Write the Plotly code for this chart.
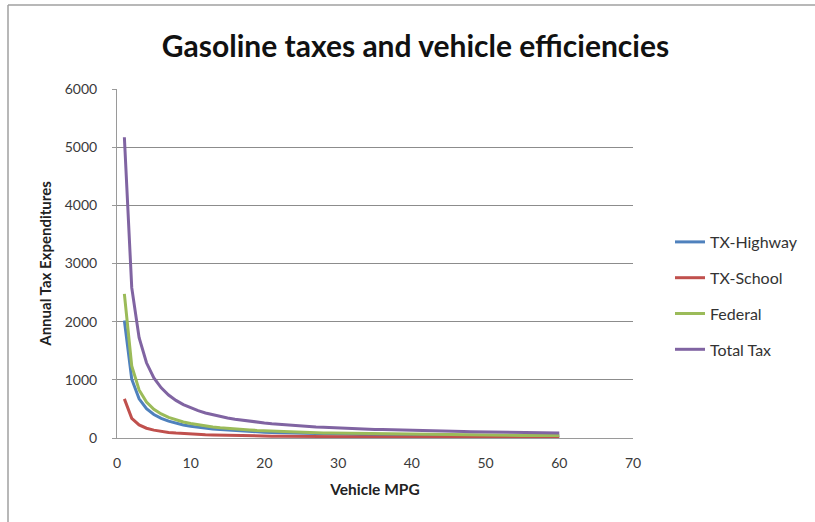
import plotly.graph_objects as go

mpg = list(range(1, 61))

tx_highway = [2020, 1010, 673, 505, 404, 337, 289, 253, 224, 202,
              184, 168, 155, 144, 135, 126, 119, 112, 106, 101,
              96, 92, 88, 84, 81, 78, 75, 72, 70, 67,
              65, 63, 61, 59, 58, 56, 55, 53, 52, 51,
              49, 48, 47, 46, 45, 44, 43, 42, 41, 40,
              40, 39, 38, 37, 37, 36, 35, 35, 34, 34]

tx_school = [673, 337, 224, 168, 135, 112, 96, 84, 75, 67,
             61, 56, 52, 48, 45, 42, 40, 37, 35, 34,
             32, 31, 29, 28, 27, 26, 25, 24, 23, 22,
             22, 21, 20, 20, 19, 19, 18, 18, 17, 17,
             16, 16, 16, 15, 15, 15, 14, 14, 14, 13,
             13, 13, 13, 12, 12, 12, 12, 12, 11, 11]

federal = [2477, 1239, 826, 619, 495, 413, 354, 310, 275, 248,
           225, 206, 191, 177, 165, 155, 146, 138, 130, 124,
           118, 113, 108, 103, 99, 95, 92, 88, 85, 83,
           80, 77, 75, 73, 71, 69, 67, 65, 64, 62,
           60, 59, 58, 56, 55, 54, 53, 52, 51, 50,
           49, 48, 47, 46, 45, 44, 43, 43, 42, 41]

total_tax = [5170, 2585, 1723, 1293, 1034, 862, 739, 646, 574, 517,
             470, 431, 398, 369, 345, 323, 304, 287, 272, 259,
             246, 235, 225, 215, 207, 199, 191, 185, 178, 172,
             167, 162, 157, 152, 148, 144, 140, 136, 133, 129,
             126, 123, 120, 118, 115, 112, 110, 108, 106, 103,
             101, 99, 98, 96, 94, 92, 91, 89, 88, 86]

series = [
    ("TX-Highway", tx_highway, "#4F81BD"),
    ("TX-School", tx_school, "#C0504D"),
    ("Federal", federal, "#9BBB59"),
    ("Total Tax", total_tax, "#8064A2"),
]

W, H = 815, 522
L, R, T, B = 117, 182, 89, 84
pw, ph = W - L - R, H - T - B


def px_x(x):
    return (x - L) / pw


def px_y(y):
    return (H - B - y) / ph


fig = go.Figure()
for name, vals, col in series:
    fig.add_trace(go.Scatter(x=mpg, y=vals, name=name, mode="lines",
                             legendgroup=name,
                             line=dict(color=col, width=3)))

font = "Lato, 'Open Sans', sans-serif"

fig.update_layout(
    width=W, height=H,
    margin=dict(l=L, r=R, t=T, b=B),
    paper_bgcolor="white", plot_bgcolor="white",
    font=dict(family=font, size=14, color="#3a3a3a"),
    title=dict(text="<b>Gasoline taxes and vehicle efficiencies</b>",
               x=415.5 / W, xanchor="center", y=1 - 46 / H, yanchor="middle",
               font=dict(family=font, size=30, color="#111111")),
    xaxis=dict(range=[0, 70], dtick=10, showgrid=False, zeroline=False,
               showline=True, linecolor="#9a9a9a", linewidth=1,
               ticks="", ticklabelstandoff=12,
               tickfont=dict(size=14, color="#3a3a3a"),
               title=dict(text="<b>Vehicle MPG</b>", standoff=14,
                          font=dict(size=15.5, color="#222222"))),
    yaxis=dict(range=[0, 6000], dtick=1000, showgrid=True,
               gridcolor="#8c8c8c", gridwidth=1, zeroline=False,
               showline=True, linecolor="#9a9a9a", linewidth=1,
               ticks="outside", ticklen=4, tickcolor="#9a9a9a",
               ticklabelstandoff=12,
               tickfont=dict(size=14, color="#3a3a3a"),
               title=dict(text="<b>Annual Tax Expenditures</b>", standoff=9,
                          font=dict(size=15, color="#222222"))),
    legend=dict(x=px_x(670), xanchor="left",
                y=px_y(225), yanchor="top",
                bgcolor="rgba(0,0,0,0)", tracegroupgap=12,
                font=dict(size=16, color="#333333")),
    showlegend=True,
)

# outer chart frame (left and top edges only visible)
fig.add_shape(type="line", xref="paper", yref="paper",
              x0=px_x(8), x1=px_x(W),
              y0=px_y(5), y1=px_y(5),
              line=dict(color="#a0a0a0", width=1.5))
fig.add_shape(type="line", xref="paper", yref="paper",
              x0=px_x(8), x1=px_x(8),
              y0=px_y(5), y1=px_y(H),
              line=dict(color="#a0a0a0", width=1.5))

fig.write_html("out.html",
               config={"displayModeBar": False},
               post_script="document.body.style.margin='0';")
